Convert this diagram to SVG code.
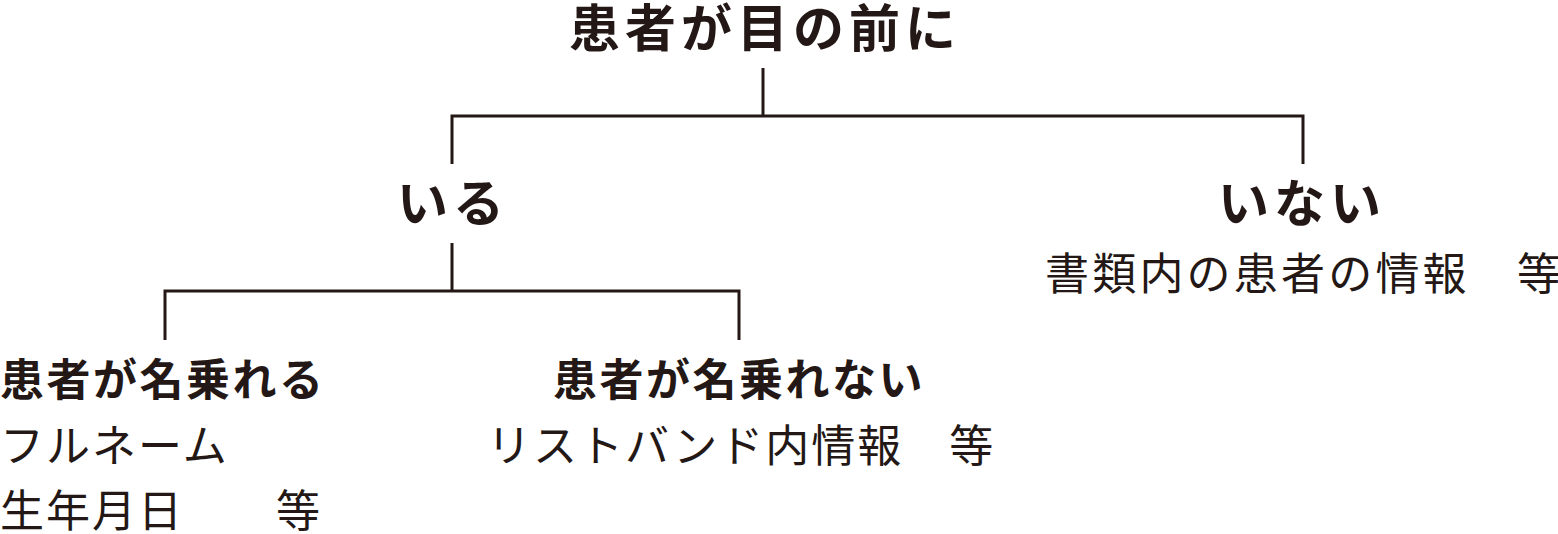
<svg xmlns="http://www.w3.org/2000/svg" width="1558" height="534" viewBox="0 0 1558 534">
<style>
text{font-family:"Noto Sans CJK JP","Noto Sans CJK SC",sans-serif;fill:#231815}
.h{font-weight:700;font-size:51px;letter-spacing:5px}
.s{font-weight:700;font-size:44px;letter-spacing:2.5px}
.b{font-weight:400;font-size:44px;letter-spacing:2px}
.r{font-weight:400;font-size:44px;letter-spacing:3.2px}
.c{fill:none;stroke:#231815;stroke-width:3}
</style>
<rect width="1558" height="534" fill="#fff"/>
<g id="connectors" class="c">
<path d="M763 68V116"/>
<path d="M452 164V116H1303V164"/>
<path d="M452 243V291"/>
<path d="M165 340V291H739V340"/>
</g>
<g id="root"><text class="h" x="569" y="47">患者が目の前に</text></g>
<g id="iru"><text class="h" x="397" y="222">いる</text></g>
<g id="inai"><text class="h" x="1218" y="222">いない</text><text class="r" x="1045" y="290">書類内の患者の情報　等</text></g>
<g id="nanoreru"><text class="s" x="0" y="396">患者が名乗れる</text><text class="b" x="0" y="462">フルネーム</text><text class="b" x="0" y="527">生年月日　　等</text></g>
<g id="nanorenai"><text class="s" x="553" y="396">患者が名乗れない</text><text class="b" x="487" y="462">リストバンド内情報　等</text></g>
</svg>
